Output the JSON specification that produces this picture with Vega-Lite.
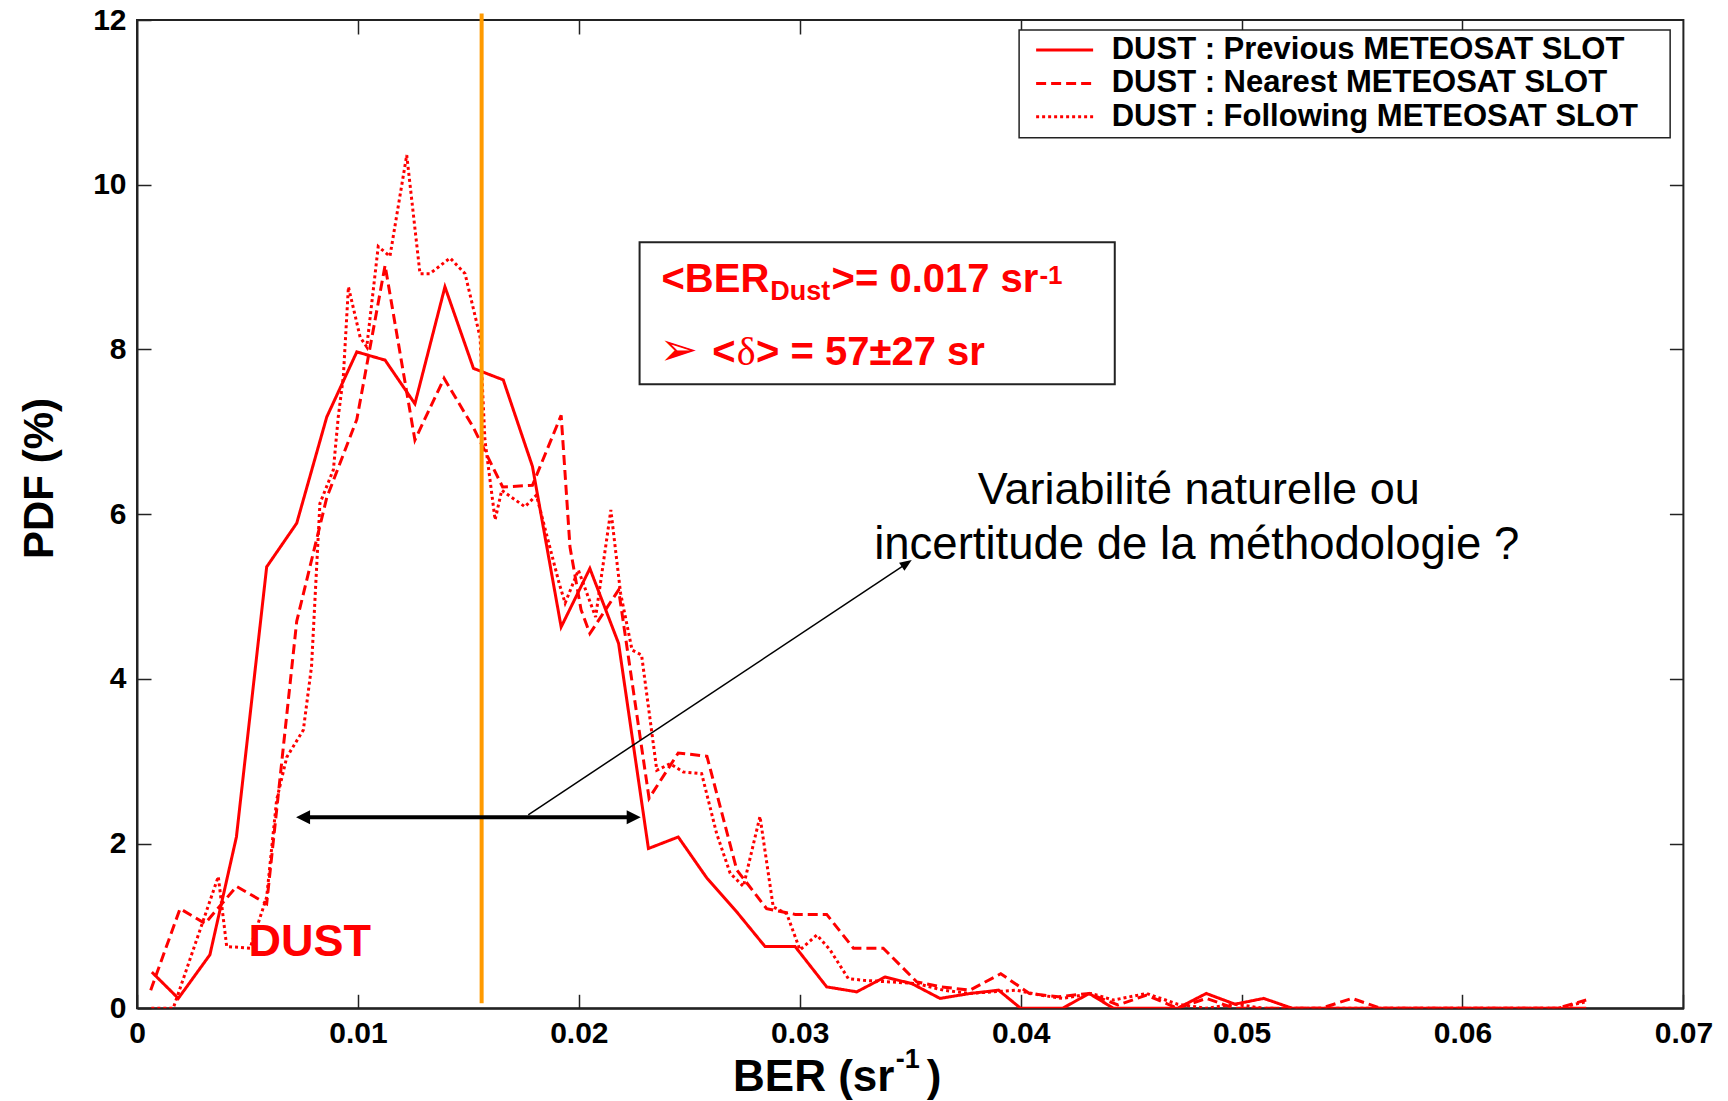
{
  "$schema": "https://vega.github.io/schema/vega-lite/v6.json",
  "width": 1546.4,
  "height": 988.3,
  "autosize": {"type": "none"},
  "padding": {"left": 137, "top": 20, "right": 44.6, "bottom": 92.7},
  "background": "white",
  "config": {
    "view": {"stroke": "#222", "strokeWidth": 2},
    "font": "Liberation Sans",
    "axis": {
      "grid": false, "domainColor": "#222", "domainWidth": 2,
      "tickColor": "#222", "tickWidth": 1.5, "tickSize": -14,
      "labelFont": "Liberation Sans", "labelFontWeight": "bold", "labelFontSize": 30, "labelColor": "black",
      "titleFont": "Liberation Sans", "titleFontWeight": "bold", "titleColor": "black"
    }
  },
  "datasets": {
    "curves": [
      {"slot": "Previous", "ber": 0.00067, "pdf": 0.44},
      {"slot": "Previous", "ber": 0.00187, "pdf": 0.12},
      {"slot": "Previous", "ber": 0.0033, "pdf": 0.65},
      {"slot": "Previous", "ber": 0.0045, "pdf": 2.08},
      {"slot": "Previous", "ber": 0.00587, "pdf": 5.36},
      {"slot": "Previous", "ber": 0.00723, "pdf": 5.89},
      {"slot": "Previous", "ber": 0.00859, "pdf": 7.18},
      {"slot": "Previous", "ber": 0.00995, "pdf": 7.97},
      {"slot": "Previous", "ber": 0.01123, "pdf": 7.87},
      {"slot": "Previous", "ber": 0.01258, "pdf": 7.34},
      {"slot": "Previous", "ber": 0.01394, "pdf": 8.76},
      {"slot": "Previous", "ber": 0.01523, "pdf": 7.77},
      {"slot": "Previous", "ber": 0.01658, "pdf": 7.63},
      {"slot": "Previous", "ber": 0.0179, "pdf": 6.58},
      {"slot": "Previous", "ber": 0.0192, "pdf": 4.63},
      {"slot": "Previous", "ber": 0.0205, "pdf": 5.34},
      {"slot": "Previous", "ber": 0.0218, "pdf": 4.43},
      {"slot": "Previous", "ber": 0.02315, "pdf": 1.94},
      {"slot": "Previous", "ber": 0.0245, "pdf": 2.08},
      {"slot": "Previous", "ber": 0.0258, "pdf": 1.58},
      {"slot": "Previous", "ber": 0.02715, "pdf": 1.17},
      {"slot": "Previous", "ber": 0.02843, "pdf": 0.75},
      {"slot": "Previous", "ber": 0.02979, "pdf": 0.75},
      {"slot": "Previous", "ber": 0.03122, "pdf": 0.26},
      {"slot": "Previous", "ber": 0.03258, "pdf": 0.2},
      {"slot": "Previous", "ber": 0.03386, "pdf": 0.38},
      {"slot": "Previous", "ber": 0.03507, "pdf": 0.3},
      {"slot": "Previous", "ber": 0.03635, "pdf": 0.12},
      {"slot": "Previous", "ber": 0.03771, "pdf": 0.18},
      {"slot": "Previous", "ber": 0.039, "pdf": 0.22},
      {"slot": "Previous", "ber": 0.04, "pdf": 0.0},
      {"slot": "Previous", "ber": 0.0419, "pdf": 0.0},
      {"slot": "Previous", "ber": 0.0431, "pdf": 0.18},
      {"slot": "Previous", "ber": 0.0442, "pdf": 0.0},
      {"slot": "Previous", "ber": 0.0471, "pdf": 0.0},
      {"slot": "Previous", "ber": 0.0484, "pdf": 0.18},
      {"slot": "Previous", "ber": 0.0497, "pdf": 0.05},
      {"slot": "Previous", "ber": 0.051, "pdf": 0.12},
      {"slot": "Previous", "ber": 0.0523, "pdf": 0.0},
      {"slot": "Previous", "ber": 0.0656, "pdf": 0.0},

      {"slot": "Nearest", "ber": 0.00062, "pdf": 0.22},
      {"slot": "Nearest", "ber": 0.00195, "pdf": 1.21},
      {"slot": "Nearest", "ber": 0.00308, "pdf": 1.03},
      {"slot": "Nearest", "ber": 0.00451, "pdf": 1.48},
      {"slot": "Nearest", "ber": 0.00587, "pdf": 1.27},
      {"slot": "Nearest", "ber": 0.00723, "pdf": 4.7},
      {"slot": "Nearest", "ber": 0.00859, "pdf": 6.2},
      {"slot": "Nearest", "ber": 0.00995, "pdf": 7.15},
      {"slot": "Nearest", "ber": 0.01123, "pdf": 9.02},
      {"slot": "Nearest", "ber": 0.01258, "pdf": 6.9},
      {"slot": "Nearest", "ber": 0.0139, "pdf": 7.65},
      {"slot": "Nearest", "ber": 0.01523, "pdf": 7.05},
      {"slot": "Nearest", "ber": 0.01655, "pdf": 6.33},
      {"slot": "Nearest", "ber": 0.0179, "pdf": 6.35},
      {"slot": "Nearest", "ber": 0.0192, "pdf": 7.2},
      {"slot": "Nearest", "ber": 0.0196, "pdf": 5.6},
      {"slot": "Nearest", "ber": 0.0201, "pdf": 4.84},
      {"slot": "Nearest", "ber": 0.0205, "pdf": 4.55},
      {"slot": "Nearest", "ber": 0.0218, "pdf": 5.08},
      {"slot": "Nearest", "ber": 0.02318, "pdf": 2.55},
      {"slot": "Nearest", "ber": 0.0245, "pdf": 3.1},
      {"slot": "Nearest", "ber": 0.0258, "pdf": 3.06},
      {"slot": "Nearest", "ber": 0.02715, "pdf": 1.68},
      {"slot": "Nearest", "ber": 0.0285, "pdf": 1.21},
      {"slot": "Nearest", "ber": 0.0298, "pdf": 1.14},
      {"slot": "Nearest", "ber": 0.03122, "pdf": 1.14},
      {"slot": "Nearest", "ber": 0.03243, "pdf": 0.73},
      {"slot": "Nearest", "ber": 0.03378, "pdf": 0.73},
      {"slot": "Nearest", "ber": 0.0353, "pdf": 0.32},
      {"slot": "Nearest", "ber": 0.0364, "pdf": 0.26},
      {"slot": "Nearest", "ber": 0.0377, "pdf": 0.22},
      {"slot": "Nearest", "ber": 0.0391, "pdf": 0.42},
      {"slot": "Nearest", "ber": 0.0404, "pdf": 0.18},
      {"slot": "Nearest", "ber": 0.0417, "pdf": 0.14},
      {"slot": "Nearest", "ber": 0.0431, "pdf": 0.18},
      {"slot": "Nearest", "ber": 0.0444, "pdf": 0.04},
      {"slot": "Nearest", "ber": 0.0457, "pdf": 0.16},
      {"slot": "Nearest", "ber": 0.0471, "pdf": 0.0},
      {"slot": "Nearest", "ber": 0.0484, "pdf": 0.12},
      {"slot": "Nearest", "ber": 0.0497, "pdf": 0.0},
      {"slot": "Nearest", "ber": 0.0536, "pdf": 0.0},
      {"slot": "Nearest", "ber": 0.055, "pdf": 0.12},
      {"slot": "Nearest", "ber": 0.0563, "pdf": 0.0},
      {"slot": "Nearest", "ber": 0.0643, "pdf": 0.0},
      {"slot": "Nearest", "ber": 0.0656, "pdf": 0.1},

      {"slot": "Following", "ber": 0.00065, "pdf": 0.0},
      {"slot": "Following", "ber": 0.00164, "pdf": 0.0},
      {"slot": "Following", "ber": 0.00368, "pdf": 1.6},
      {"slot": "Following", "ber": 0.00406, "pdf": 0.75},
      {"slot": "Following", "ber": 0.00512, "pdf": 0.73},
      {"slot": "Following", "ber": 0.00587, "pdf": 1.35},
      {"slot": "Following", "ber": 0.00632, "pdf": 2.53},
      {"slot": "Following", "ber": 0.00678, "pdf": 3.05},
      {"slot": "Following", "ber": 0.00753, "pdf": 3.38},
      {"slot": "Following", "ber": 0.0079, "pdf": 4.15},
      {"slot": "Following", "ber": 0.00828, "pdf": 6.13},
      {"slot": "Following", "ber": 0.00889, "pdf": 6.54},
      {"slot": "Following", "ber": 0.00911, "pdf": 7.18},
      {"slot": "Following", "ber": 0.00934, "pdf": 7.67},
      {"slot": "Following", "ber": 0.00957, "pdf": 8.76},
      {"slot": "Following", "ber": 0.0101, "pdf": 8.15},
      {"slot": "Following", "ber": 0.0104, "pdf": 8.03},
      {"slot": "Following", "ber": 0.01092, "pdf": 9.25},
      {"slot": "Following", "ber": 0.01145, "pdf": 9.13},
      {"slot": "Following", "ber": 0.01221, "pdf": 10.36},
      {"slot": "Following", "ber": 0.01281, "pdf": 8.92},
      {"slot": "Following", "ber": 0.01326, "pdf": 8.92},
      {"slot": "Following", "ber": 0.01417, "pdf": 9.11},
      {"slot": "Following", "ber": 0.01485, "pdf": 8.92},
      {"slot": "Following", "ber": 0.01553, "pdf": 8.15},
      {"slot": "Following", "ber": 0.01575, "pdf": 6.9},
      {"slot": "Following", "ber": 0.01621, "pdf": 5.93},
      {"slot": "Following", "ber": 0.01651, "pdf": 6.29},
      {"slot": "Following", "ber": 0.01756, "pdf": 6.09},
      {"slot": "Following", "ber": 0.01808, "pdf": 6.23},
      {"slot": "Following", "ber": 0.01911, "pdf": 5.16},
      {"slot": "Following", "ber": 0.01938, "pdf": 4.92},
      {"slot": "Following", "ber": 0.01998, "pdf": 5.32},
      {"slot": "Following", "ber": 0.02076, "pdf": 4.75},
      {"slot": "Following", "ber": 0.02145, "pdf": 6.05},
      {"slot": "Following", "ber": 0.02189, "pdf": 5.04},
      {"slot": "Following", "ber": 0.02241, "pdf": 4.35},
      {"slot": "Following", "ber": 0.02284, "pdf": 4.29},
      {"slot": "Following", "ber": 0.02353, "pdf": 2.89},
      {"slot": "Following", "ber": 0.02413, "pdf": 2.97},
      {"slot": "Following", "ber": 0.02473, "pdf": 2.87},
      {"slot": "Following", "ber": 0.02556, "pdf": 2.85},
      {"slot": "Following", "ber": 0.02624, "pdf": 2.12},
      {"slot": "Following", "ber": 0.02685, "pdf": 1.64},
      {"slot": "Following", "ber": 0.02745, "pdf": 1.48},
      {"slot": "Following", "ber": 0.0282, "pdf": 2.33},
      {"slot": "Following", "ber": 0.0288, "pdf": 1.23},
      {"slot": "Following", "ber": 0.02941, "pdf": 1.15},
      {"slot": "Following", "ber": 0.03001, "pdf": 0.71},
      {"slot": "Following", "ber": 0.03077, "pdf": 0.89},
      {"slot": "Following", "ber": 0.03137, "pdf": 0.71},
      {"slot": "Following", "ber": 0.0322, "pdf": 0.36},
      {"slot": "Following", "ber": 0.03288, "pdf": 0.34},
      {"slot": "Following", "ber": 0.0353, "pdf": 0.3},
      {"slot": "Following", "ber": 0.0365, "pdf": 0.22},
      {"slot": "Following", "ber": 0.0377, "pdf": 0.18},
      {"slot": "Following", "ber": 0.0398, "pdf": 0.22},
      {"slot": "Following", "ber": 0.0409, "pdf": 0.16},
      {"slot": "Following", "ber": 0.0419, "pdf": 0.12},
      {"slot": "Following", "ber": 0.0432, "pdf": 0.18},
      {"slot": "Following", "ber": 0.0442, "pdf": 0.1},
      {"slot": "Following", "ber": 0.0457, "pdf": 0.18},
      {"slot": "Following", "ber": 0.0471, "pdf": 0.05},
      {"slot": "Following", "ber": 0.0484, "pdf": 0.0},
      {"slot": "Following", "ber": 0.0497, "pdf": 0.05},
      {"slot": "Following", "ber": 0.051, "pdf": 0.0},
      {"slot": "Following", "ber": 0.0643, "pdf": 0.0},
      {"slot": "Following", "ber": 0.0656, "pdf": 0.08}
    ]
  },
  "layer": [
    {
      "data": {"values": [{"one": 1}]},
      "layer": [
        {
          "data": {"name": "curves"},
          "mark": {"type": "line", "color": "#ff0000", "strokeWidth": 3, "clip": true},
          "encoding": {
            "x": {"field": "ber", "type": "quantitative",
                  "scale": {"domain": [0, 0.07], "nice": false, "zero": false},
                  "axis": {"orient": "bottom", "values": [0, 0.01, 0.02, 0.03, 0.04, 0.05, 0.06, 0.07], "format": "~g", "labelFlush": false, "labelPadding": 24, "title": null}},
            "y": {"field": "pdf", "type": "quantitative",
                  "scale": {"domain": [0, 12], "nice": false},
                  "axis": {"orient": "left", "values": [0, 2, 4, 6, 8, 10, 12], "format": "~g", "labelFlush": false, "labelPadding": 25,
                           "title": "PDF (%)", "titleFontSize": 42, "titleX": -85, "titleY": 458, "titleAngle": 270, "titleBaseline": "alphabetic", "titleAlign": "center"}},
            "strokeDash": {"field": "slot", "type": "nominal",
                           "scale": {"domain": ["Previous", "Nearest", "Following"], "range": [[1, 0], [10, 5], [3, 3]]},
                           "legend": null}
          }
        },
        {
          "mark": {"type": "rule", "color": "#ff9a00", "strokeWidth": 4},
          "encoding": {"x": {"datum": 0.0156}, "y": {"datum": 0.06}, "y2": {"datum": 12.08}}
        },
        {
          "mark": {"type": "rect", "fill": "white", "stroke": "#222", "strokeWidth": 1.5},
          "encoding": {"x": {"datum": 0.03993}, "x2": {"datum": 0.0694}, "y": {"datum": 11.878}, "y2": {"datum": 10.571}}
        },
        {
          "mark": {"type": "rule", "color": "#ff0000", "strokeWidth": 3},
          "encoding": {"x": {"datum": 0.0407}, "x2": {"datum": 0.04328}, "y": {"datum": 11.635}}
        },
        {
          "mark": {"type": "rule", "color": "#ff0000", "strokeWidth": 3, "strokeDash": [10, 5]},
          "encoding": {"x": {"datum": 0.0407}, "x2": {"datum": 0.04328}, "y": {"datum": 11.23}}
        },
        {
          "mark": {"type": "rule", "color": "#ff0000", "strokeWidth": 3, "strokeDash": [3, 3]},
          "encoding": {"x": {"datum": 0.0407}, "x2": {"datum": 0.04328}, "y": {"datum": 10.826}}
        },
        {
          "mark": {"type": "text", "text": "DUST : Previous METEOSAT SLOT", "font": "Liberation Sans", "fontWeight": "bold", "fontSize": 31, "color": "black", "align": "left", "baseline": "middle"},
          "encoding": {"x": {"datum": 0.04412}, "y": {"datum": 11.635}}
        },
        {
          "mark": {"type": "text", "text": "DUST : Nearest METEOSAT SLOT", "font": "Liberation Sans", "fontWeight": "bold", "fontSize": 31, "color": "black", "align": "left", "baseline": "middle"},
          "encoding": {"x": {"datum": 0.04412}, "y": {"datum": 11.23}}
        },
        {
          "mark": {"type": "text", "text": "DUST : Following METEOSAT SLOT", "font": "Liberation Sans", "fontWeight": "bold", "fontSize": 31, "color": "black", "align": "left", "baseline": "middle"},
          "encoding": {"x": {"datum": 0.04412}, "y": {"datum": 10.826}}
        },
        {
          "mark": {"type": "rect", "fill": "white", "stroke": "#222", "strokeWidth": 2},
          "encoding": {"x": {"datum": 0.02275}, "x2": {"datum": 0.04426}, "y": {"datum": 9.3}, "y2": {"datum": 7.576}}
        },
        {
          "mark": {"type": "text", "text": "<BER", "font": "Liberation Sans", "fontWeight": "bold", "fontSize": 40, "color": "#ff0000", "align": "left", "baseline": "alphabetic"},
          "encoding": {"x": {"datum": 0.02374}, "y": {"datum": 8.7}}
        },
        {
          "mark": {"type": "text", "text": "Dust", "font": "Liberation Sans", "fontWeight": "bold", "fontSize": 27, "color": "#ff0000", "align": "left", "baseline": "alphabetic"},
          "encoding": {"x": {"datum": 0.02866}, "y": {"datum": 8.6}}
        },
        {
          "mark": {"type": "text", "text": ">= 0.017 sr", "font": "Liberation Sans", "fontWeight": "bold", "fontSize": 40, "color": "#ff0000", "align": "left", "baseline": "alphabetic"},
          "encoding": {"x": {"datum": 0.03144}, "y": {"datum": 8.7}}
        },
        {
          "mark": {"type": "text", "text": "-1", "font": "Liberation Sans", "fontWeight": "bold", "fontSize": 26, "color": "#ff0000", "align": "left", "baseline": "alphabetic"},
          "encoding": {"x": {"datum": 0.04085}, "y": {"datum": 8.8}}
        },
        {
          "mark": {"type": "text", "text": "➢", "font": "DejaVu Sans", "fontSize": 46, "color": "#ff0000", "align": "left", "baseline": "middle"},
          "encoding": {"x": {"datum": 0.02365}, "y": {"datum": 7.98}}
        },
        {
          "mark": {"type": "text", "text": "<", "font": "Liberation Sans", "fontWeight": "bold", "fontSize": 40, "color": "#ff0000", "align": "left", "baseline": "alphabetic"},
          "encoding": {"x": {"datum": 0.02604}, "y": {"datum": 7.805}}
        },
        {
          "mark": {"type": "text", "text": "δ", "font": "Liberation Serif", "fontSize": 40, "color": "#ff0000", "align": "left", "baseline": "alphabetic"},
          "encoding": {"x": {"datum": 0.02715}, "y": {"datum": 7.805}}
        },
        {
          "mark": {"type": "text", "text": "> = 57±27 sr", "font": "Liberation Sans", "fontWeight": "bold", "fontSize": 40, "color": "#ff0000", "align": "left", "baseline": "alphabetic"},
          "encoding": {"x": {"datum": 0.02802}, "y": {"datum": 7.805}}
        },
        {
          "mark": {"type": "text", "text": "DUST", "font": "Liberation Sans", "fontWeight": "bold", "fontSize": 45, "color": "#ff0000", "align": "left", "baseline": "alphabetic"},
          "encoding": {"x": {"datum": 0.00505}, "y": {"datum": 0.63}}
        },
        {
          "mark": {"type": "text", "text": "Variabilité naturelle ou", "font": "Liberation Sans", "fontSize": 45, "color": "black", "align": "center", "baseline": "alphabetic"},
          "encoding": {"x": {"datum": 0.04806}, "y": {"datum": 6.123}}
        },
        {
          "mark": {"type": "text", "text": "incertitude de la méthodologie ?", "font": "Liberation Sans", "fontSize": 45.5, "color": "black", "align": "center", "baseline": "alphabetic"},
          "encoding": {"x": {"datum": 0.04797}, "y": {"datum": 5.461}}
        },
        {
          "mark": {"type": "rule", "color": "black", "strokeWidth": 4},
          "encoding": {"x": {"datum": 0.0076}, "x2": {"datum": 0.0224}, "y": {"datum": 2.32}}
        },
        {
          "mark": {"type": "point", "shape": "M0,0 L2,-1 L2,1 Z", "filled": true, "color": "black", "size": 196, "opacity": 1, "strokeWidth": 0},
          "encoding": {"x": {"datum": 0.0072}, "y": {"datum": 2.32}}
        },
        {
          "mark": {"type": "point", "shape": "M0,0 L-2,-1 L-2,1 Z", "filled": true, "color": "black", "size": 196, "opacity": 1, "strokeWidth": 0},
          "encoding": {"x": {"datum": 0.0228}, "y": {"datum": 2.32}}
        },
        {
          "mark": {"type": "rule", "color": "black", "strokeWidth": 1.5},
          "encoding": {"x": {"datum": 0.01771}, "x2": {"datum": 0.0349}, "y": {"datum": 2.35}, "y2": {"datum": 5.41}}
        },
        {
          "mark": {"type": "point", "shape": "M0,0 L-2,-0.8 L-2,0.8 Z", "filled": true, "color": "black", "size": 144, "opacity": 1, "strokeWidth": 0, "angle": 326.2},
          "encoding": {"x": {"datum": 0.03507}, "y": {"datum": 5.443}}
        },
        {
          "mark": {"type": "text", "text": "BER (sr", "font": "Liberation Sans", "fontWeight": "bold", "fontSize": 44, "color": "black", "align": "left", "baseline": "alphabetic"},
          "encoding": {"x": {"datum": 0.02698}, "y": {"datum": -1.004}}
        },
        {
          "mark": {"type": "text", "text": "-1", "font": "Liberation Sans", "fontWeight": "bold", "fontSize": 27, "color": "black", "align": "left", "baseline": "alphabetic"},
          "encoding": {"x": {"datum": 0.03435}, "y": {"datum": -0.72}}
        },
        {
          "mark": {"type": "text", "text": ")", "font": "Liberation Sans", "fontWeight": "bold", "fontSize": 44, "color": "black", "align": "left", "baseline": "alphabetic"},
          "encoding": {"x": {"datum": 0.03575}, "y": {"datum": -1.004}}
        }
      ]
    },
    {
      "data": {"values": [{"one": 1}]},
      "mark": {"type": "point", "opacity": 0},
      "encoding": {
        "x": {"datum": 0, "type": "quantitative", "scale": {"domain": [0, 0.07], "nice": false, "zero": false},
              "axis": {"orient": "top", "values": [0.01, 0.02, 0.03, 0.04, 0.05, 0.06], "labels": false, "title": null, "domain": false}},
        "y": {"datum": 0, "type": "quantitative", "scale": {"domain": [0, 12], "nice": false},
              "axis": {"orient": "right", "values": [2, 4, 6, 8, 10], "labels": false, "title": null, "domain": false}}
      }
    }
  ],
  "resolve": {"scale": {"x": "independent", "y": "independent"}}
}
